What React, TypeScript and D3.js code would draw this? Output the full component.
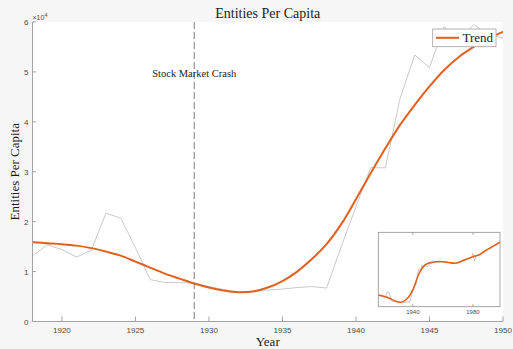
import React from "react";
import * as d3 from "d3";

// Annual observations (×10^4 entities per capita)
const obsYears = [
  1918, 1919, 1920, 1921, 1922, 1923, 1924, 1925, 1926, 1927, 1928, 1929, 1930,
  1931, 1932, 1933, 1934, 1935, 1936, 1937, 1938, 1939, 1940, 1941, 1942, 1943,
  1944, 1945, 1946, 1947, 1948, 1949, 1950,
];
const obsValues = [
  1.31, 1.54, 1.44, 1.29, 1.43, 2.17, 2.07, 1.48, 0.84, 0.78, 0.78, 0.77, 0.7,
  0.64, 0.59, 0.61, 0.63, 0.65, 0.68, 0.7, 0.67, 1.5, 2.3, 3.08, 3.08, 4.47,
  5.34, 5.09, 5.91, 5.6, 5.95, 5.75, 5.68,
];

// Smoothed trend for the main panel
const trendYears = obsYears;
const trendValues = [
  1.59, 1.57, 1.55, 1.52, 1.47, 1.4, 1.32, 1.2, 1.08, 0.96, 0.86, 0.76, 0.68,
  0.62, 0.585, 0.6, 0.68, 0.81, 1.0, 1.25, 1.55, 1.95, 2.45, 2.97, 3.47, 3.94,
  4.34, 4.71, 5.04, 5.3, 5.5, 5.67, 5.8,
];

// Later observations shown only in the long-run inset
const lateYears = [
  1952, 1956, 1960, 1964, 1968, 1972, 1976, 1979, 1980, 1981, 1982, 1986, 1990,
  1994, 1998,
];
const lateValues = [
  6.2, 6.4, 6.45, 6.3, 6.15, 6.45, 6.8, 7.0, 7.6, 6.5, 7.2, 7.7, 8.2, 8.7, 9.2,
];

// Long-run trend for the inset
const insetTrendYears = [
  1917, 1920, 1924, 1928, 1932, 1936, 1940, 1944, 1948, 1952, 1956, 1960, 1964,
  1968, 1972, 1976, 1980, 1984, 1988, 1992, 1996, 1998,
];
const insetTrendValues = [
  1.67, 1.52, 1.24, 0.81, 0.63, 1.1, 2.4, 4.66, 5.94, 6.3, 6.41, 6.41, 6.3,
  6.18, 6.44, 6.8, 7.12, 7.37, 7.94, 8.44, 8.93, 9.22,
];

const xTicks = [1920, 1925, 1930, 1935, 1940, 1945, 1950];
const yTicks = [0, 1, 2, 3, 4, 5, 6];
const insetTicks = [1940, 1980];
const crashYear = 1929;

const W = 513;
const H = 349;
const L = 32.5;
const R = 503;
const T = 22;
const B = 321.5;

const IL = 378.3;
const IR = 500;
const IT = 232.3;
const IB = 306.7;

const ORANGE = "#e0601d";
const GRAY_LINE = "#c9c9c9";
const AXIS = "#a3a3a3";
const TICK_TEXT = "#4a4a4a";
const SERIF = "'Liberation Serif', 'Times New Roman', serif";
const SANS = "'Liberation Sans', Arial, sans-serif";

type Pt = [number, number];

export default function App() {
  const x = d3.scaleLinear().domain([1918, 1950]).range([L, R]);
  const y = d3.scaleLinear().domain([0, 6]).range([B, T]);

  const ix = d3.scaleLinear().domain([1917, 1998]).range([IL, IR]);
  const iy = d3.scaleLinear().domain([0, 10.6]).range([IB, IT]);

  const obs: Pt[] = obsYears.map((yr, i) => [yr, obsValues[i]]);
  const trend: Pt[] = trendYears.map((yr, i) => [yr, trendValues[i]]);
  const longObs: Pt[] = obs.concat(lateYears.map((yr, i) => [yr, lateValues[i]] as Pt));
  const longTrend: Pt[] = insetTrendYears.map((yr, i) => [yr, insetTrendValues[i]]);

  const mainLine = d3
    .line<Pt>()
    .x((d) => x(d[0]))
    .y((d) => y(d[1]));
  const mainSmooth = d3
    .line<Pt>()
    .x((d) => x(d[0]))
    .y((d) => y(d[1]))
    .curve(d3.curveCatmullRom.alpha(0.5));

  const insetLine = d3
    .line<Pt>()
    .x((d) => ix(d[0]))
    .y((d) => iy(d[1]));
  const insetSmooth = d3
    .line<Pt>()
    .x((d) => ix(d[0]))
    .y((d) => iy(d[1]))
    .curve(d3.curveCatmullRom.alpha(0.5));

  const cx = x(crashYear);

  return (
    <svg
      width={W}
      height={H}
      style={{ position: "absolute", left: 0, top: 0, display: "block" }}
    >
      <rect x={0} y={0} width={W} height={H} fill="#f6f6f6" />
      <rect x={L} y={T} width={R - L} height={B - T} fill="#ffffff" />

      <defs>
        <clipPath id="plotClip">
          <rect x={L} y={T - 4} width={R - L} height={B - T + 4} />
        </clipPath>
        <clipPath id="insetClip">
          <rect x={IL} y={IT} width={IR - IL} height={IB - IT} />
        </clipPath>
      </defs>

      {/* crash marker */}
      <line
        x1={cx}
        x2={cx}
        y1={T}
        y2={B}
        stroke="#7f7f7f"
        strokeWidth={1}
        strokeDasharray="7,3"
      />
      <text
        x={cx}
        y={77}
        textAnchor="middle"
        fontFamily={SERIF}
        fontSize={10.5}
        fill="#222"
      >
        Stock Market Crash
      </text>

      <g clipPath="url(#plotClip)">
        <path d={mainLine(obs) ?? ""} fill="none" stroke={GRAY_LINE} strokeWidth={1} />
        <path
          d={mainSmooth(trend) ?? ""}
          fill="none"
          stroke={ORANGE}
          strokeWidth={2}
          strokeLinecap="round"
        />
      </g>

      {/* axes */}
      <line x1={L} x2={R} y1={B} y2={B} stroke={AXIS} strokeWidth={1} />
      <line x1={L} x2={L} y1={T} y2={B} stroke={AXIS} strokeWidth={1} />
      {xTicks.map((t) => (
        <g key={"xt" + t}>
          <line x1={x(t)} x2={x(t)} y1={B} y2={B - 5} stroke={AXIS} strokeWidth={1} />
          <text
            x={x(t)}
            y={B + 11}
            textAnchor="middle"
            fontFamily={SANS}
            fontSize={8}
            fill={TICK_TEXT}
          >
            {t}
          </text>
        </g>
      ))}
      {yTicks.map((t) => (
        <g key={"yt" + t}>
          <line x1={L} x2={L + 3.5} y1={y(t)} y2={y(t)} stroke={AXIS} strokeWidth={1} />
          <text
            x={L - 4}
            y={y(t) + 3}
            textAnchor="end"
            fontFamily={SANS}
            fontSize={8}
            fill={TICK_TEXT}
          >
            {t}
          </text>
        </g>
      ))}
      <text x={L} y={20} fontFamily={SANS} fontSize={7} fill={TICK_TEXT}>
        ×10
        <tspan dy={-3} fontSize={5.5}>
          4
        </tspan>
      </text>

      {/* titles */}
      <text
        x={(L + R) / 2}
        y={18}
        textAnchor="middle"
        fontFamily={SERIF}
        fontSize={14}
        fill="#1a1a1a"
      >
        Entities Per Capita
      </text>
      <text
        x={(L + R) / 2}
        y={346}
        textAnchor="middle"
        fontFamily={SERIF}
        fontSize={13}
        fill="#1a1a1a"
      >
        Year
      </text>
      <text
        transform={`translate(19, ${(T + B) / 2}) rotate(-90)`}
        textAnchor="middle"
        fontFamily={SERIF}
        fontSize={13}
        fill="#1a1a1a"
      >
        Entities Per Capita
      </text>

      {/* legend */}
      <rect
        x={432.7}
        y={29}
        width={63.3}
        height={17.7}
        fill="#ffffff"
        stroke="#a0a0a0"
        strokeWidth={0.8}
      />
      <line x1={436} x2={459} y1={37.8} y2={37.8} stroke={ORANGE} strokeWidth={2} />
      <text x={462.5} y={42.2} fontFamily={SERIF} fontSize={13} fill="#1a1a1a">
        Trend
      </text>

      {/* long-run inset */}
      <rect x={IL} y={IT} width={IR - IL} height={IB - IT} fill="#ffffff" stroke="#8f8f8f" strokeWidth={0.8} />
      <g clipPath="url(#insetClip)">
        <path d={insetLine(longObs) ?? ""} fill="none" stroke="#b5b5b5" strokeWidth={0.8} />
        <path d={insetSmooth(longTrend) ?? ""} fill="none" stroke={ORANGE} strokeWidth={1.6} />
      </g>
      {insetTicks.map((t) => (
        <g key={"it" + t}>
          <line x1={ix(t)} x2={ix(t)} y1={IB} y2={IB - 2.5} stroke="#8f8f8f" strokeWidth={0.8} />
          <line x1={ix(t)} x2={ix(t)} y1={IT} y2={IT + 2.5} stroke="#8f8f8f" strokeWidth={0.8} />
          <text
            x={ix(t)}
            y={IB + 7}
            textAnchor="middle"
            fontFamily={SANS}
            fontSize={6}
            fill={TICK_TEXT}
          >
            {t}
          </text>
        </g>
      ))}
    </svg>
  );
}
